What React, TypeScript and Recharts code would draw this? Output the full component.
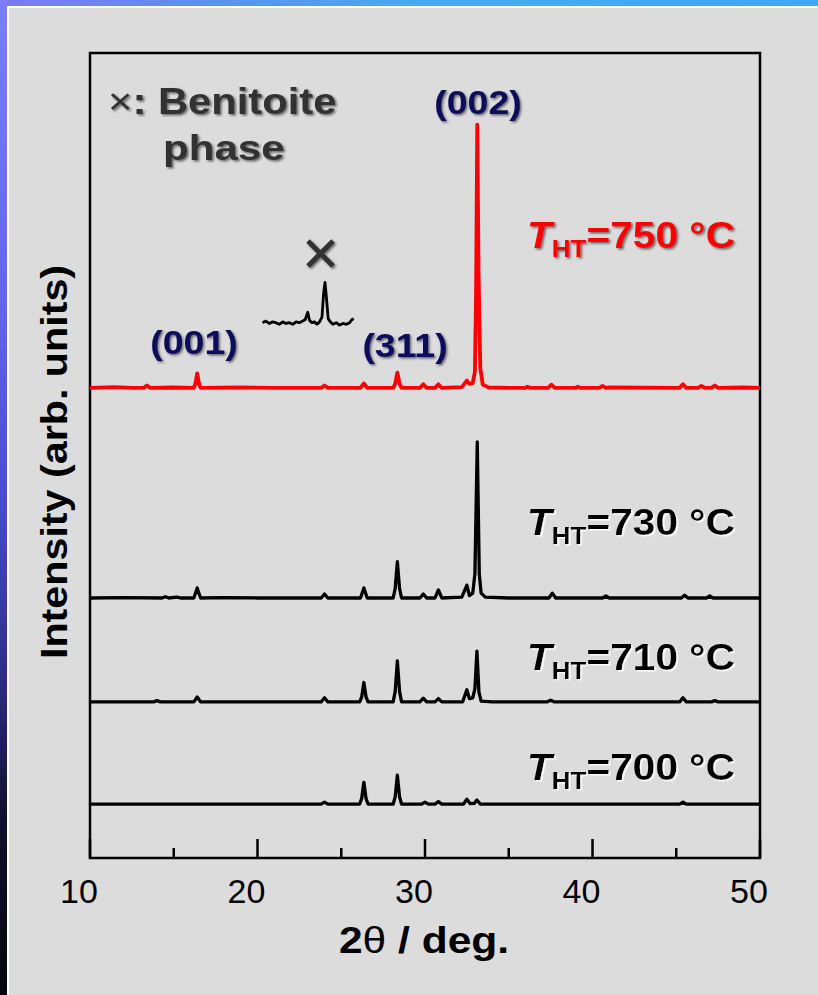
import { LineChart, Line, XAxis, YAxis, ReferenceArea } from "recharts";

const FONT = '"Liberation Sans", Arial, sans-serif';

const xTicks = [10, 15, 20, 25, 30, 35, 40, 45, 50];

// [2theta, intensity above the trace baseline]
const xrd750: [number, number][] = [
  [10, 0], [11.5, 0.1], [12.5, 0], [13.2, 0], [13.4, 0.3], [13.6, 0], [15, 0.05],
  [16.2, 0], [16.3, 0.6], [16.4, 1.8], [16.5, 0.6], [16.6, 0], [19, 0.05], [21, 0],
  [23.8, 0], [24, 0.3], [24.2, 0], [25.5, 0], [26.15, 0], [26.35, 0.55], [26.55, 0],
  [28.1, 0], [28.22, 0.5], [28.35, 1.9], [28.48, 0.5], [28.6, 0], [29.7, 0], [29.9, 0.45],
  [30.1, 0], [30.6, 0], [30.8, 0.45], [31, 0], [32.2, 0.1], [32.5, 0.9], [32.65, 0.5],
  [32.85, 0.6], [32.98, 2], [33.05, 12], [33.12, 32.7], [33.2, 14], [33.3, 2.5],
  [33.45, 0.4], [33.8, 0.05], [35, 0], [36, 0], [36.1, 0.15], [36.3, 0], [37.35, 0],
  [37.55, 0.4], [37.75, 0], [39, 0], [39.1, 0.15], [39.3, 0], [40.4, 0], [40.6, 0.25],
  [40.8, 0], [41, 0.05], [45.2, 0], [45.4, 0.45], [45.6, 0], [46.3, 0], [46.5, 0.25],
  [46.7, 0], [47.1, 0], [47.3, 0.3], [47.5, 0], [49, 0.05], [50, 0],
];

const xrd730: [number, number][] = [
  [10, 0], [12, 0.05], [14.3, 0], [14.5, 0.15], [14.7, 0], [15.2, 0.1], [15.4, 0],
  [16.2, 0], [16.4, 1.25], [16.6, 0], [18, 0.05], [20, 0], [23.8, 0], [24, 0.5],
  [24.2, 0], [26.15, 0], [26.35, 1.25], [26.55, 0], [28.1, 0], [28.22, 1.2],
  [28.35, 4.5], [28.48, 1.2], [28.6, 0], [29.7, 0], [29.9, 0.5], [30.1, 0], [30.6, 0],
  [30.8, 1], [31, 0], [32.2, 0.1], [32.5, 1.6], [32.65, 0.3], [32.85, 0.6], [32.98, 3],
  [33.12, 19.4], [33.24, 3], [33.35, 0.6], [33.6, 0.1], [35, 0], [37.4, 0], [37.6, 0.6],
  [37.8, 0], [40.6, 0], [40.8, 0.25], [41, 0], [45.3, 0], [45.5, 0.35], [45.7, 0],
  [46.8, 0], [47, 0.25], [47.2, 0], [50, 0],
];

const xrd710: [number, number][] = [
  [10, 0], [13.8, 0], [14, 0.15], [14.2, 0], [16.2, 0], [16.4, 0.6], [16.6, 0],
  [23.8, 0], [24, 0.5], [24.2, 0], [26.1, 0], [26.22, 0.6], [26.35, 2.4], [26.48, 0.6],
  [26.6, 0], [28.1, 0], [28.22, 1.3], [28.35, 5.1], [28.48, 1.3], [28.6, 0], [29.7, 0],
  [29.9, 0.45], [30.1, 0], [30.6, 0], [30.8, 0.4], [31, 0], [32.25, 0], [32.5, 1.5],
  [32.65, 0.4], [32.85, 0.5], [32.98, 1.6], [33.1, 6.3], [33.22, 1.2], [33.35, 0.1],
  [34, 0], [37.3, 0], [37.5, 0.2], [37.7, 0], [45.2, 0], [45.4, 0.5], [45.6, 0],
  [47.1, 0], [47.3, 0.15], [47.5, 0], [50, 0],
];

const xrd700: [number, number][] = [
  [10, 0], [23.8, 0], [24, 0.25], [24.2, 0], [26.1, 0], [26.22, 0.7], [26.35, 2.7],
  [26.48, 0.7], [26.6, 0], [28.1, 0], [28.22, 0.9], [28.35, 3.6], [28.48, 0.9],
  [28.6, 0], [29.8, 0], [30, 0.25], [30.2, 0], [30.6, 0], [30.8, 0.3], [31, 0],
  [32.3, 0], [32.5, 0.6], [32.7, 0.05], [32.95, 0.1], [33.1, 0.5], [33.3, 0],
  [45.2, 0], [45.4, 0.25], [45.6, 0], [50, 0],
];

// magnified benitoite window shown above the 750 °C pattern
const benitoiteInset: [number, number][] = [
  [20.3, 0], [20.5, 0.2], [20.7, -0.1], [20.9, 0.1], [21.1, 0], [21.3, -0.2],
  [21.5, 0.1], [21.7, -0.1], [21.9, 0], [22.1, -0.2], [22.3, 0.1], [22.5, 0],
  [22.7, 0.2], [22.85, 0.4], [23, 1.3], [23.1, 0.3], [23.25, 0], [23.4, 0.1],
  [23.55, -0.2], [23.7, 0.1], [23.85, 0.7], [23.95, 3.7], [24.03, 5], [24.12, 3],
  [24.22, 0.5], [24.35, 0.1], [24.5, -0.2], [24.7, 0], [24.9, -0.3], [25.1, -0.1],
  [25.3, -0.2], [25.5, 0], [25.65, 0.4], [25.75, 0.5],
];

// vertical stacking offsets: 750, 730, 710, 700 °C, inset
const offsets = [58.4, 32.3, 19.4, 6.7, 66.5];

const series = [
  { name: "750", pts: xrd750, off: offsets[0], color: "#ff0000", width: 3.8 },
  { name: "730", pts: xrd730, off: offsets[1], color: "#000000", width: 3.3 },
  { name: "710", pts: xrd710, off: offsets[2], color: "#000000", width: 3.3 },
  { name: "700", pts: xrd700, off: offsets[3], color: "#000000", width: 3.3 },
  { name: "inset", pts: benitoiteInset, off: offsets[4], color: "#000000", width: 2.8 },
];

function BottomTick({ x, y, payload }: any) {
  const major = payload.value % 10 === 0;
  return (
    <g>
      <line x1={x} x2={x} y1={y} y2={y - (major ? 19 : 10)} stroke="#000" strokeWidth={2.5} />
      {major && (
        <text x={x - 11} y={y + 45} textAnchor="middle" fontSize={34} fontFamily={FONT} fill="#000">
          {payload.value}
        </text>
      )}
    </g>
  );
}

function TopTick({ x, y, payload }: any) {
  const major = payload.value % 10 === 0;
  return <line x1={x} x2={x} y1={y} y2={y + (major ? 19 : 10)} stroke="#000" strokeWidth={2.5} />;
}

function TempLabel({ y, t, color, shadow }: any) {
  return (
    <text transform={`translate(735,${y}) scale(1.13,1)`} textAnchor="end" fontSize={36}
      fontWeight="bold" fontFamily={FONT} fill={color} filter={shadow}>
      <tspan fontStyle="italic">T</tspan>
      <tspan fontSize={23} dy={9}>HT</tspan>
      <tspan dy={-9}>={t} °C</tspan>
    </text>
  );
}

export default function App() {
  return (
    <div style={{ position: "absolute", left: 0, top: 0, width: 818, height: 995, overflow: "hidden" }}>
      <div style={{ position: "absolute", left: 0, top: 0, width: 818, height: 6,
        background: "linear-gradient(90deg, #7c78f2 0%, #5f8ff0 25%, #45aaf5 50%, #3ca8f8 100%)" }} />
      <div style={{ position: "absolute", left: 0, top: 0, width: 7, height: 995,
        background: "linear-gradient(180deg, #7d7cff 0%, #6464f5 30%, #4a4ad8 50%, #2c2c8c 68%, #10102e 82%, #06060f 100%)" }} />
      <div style={{ position: "absolute", left: 7, top: 6, right: 0, bottom: 0, background: "#dcdcdc",
        borderLeft: "2px solid #fff", borderTop: "2px solid #fff" }} />

      <div style={{ position: "absolute", left: 0, top: 0 }}>
        <LineChart width={818} height={995} margin={{ top: 53, right: 58, bottom: 97, left: 90 }}>
          <XAxis type="number" dataKey="x" domain={[10, 50]} ticks={xTicks} interval={0}
            allowDataOverflow axisLine={false} tickLine={false} tickSize={0} tickMargin={0}
            height={40} tick={<BottomTick />} />
          <XAxis xAxisId="top" orientation="top" type="number" dataKey="x" domain={[10, 50]}
            ticks={xTicks} interval={0} allowDataOverflow axisLine={false} tickLine={false}
            tickSize={0} tickMargin={0} height={0} tick={<TopTick />} />
          <YAxis hide type="number" domain={[0, 100]} allowDataOverflow />
          <ReferenceArea x1={10} x2={50} y1={0} y2={100} fill="none" stroke="#000"
            strokeWidth={2.5} fillOpacity={0} />
          {series.map((s) => (
            <Line key={s.name} data={s.pts.map(([x, v]) => ({ x, y: v + s.off }))}
              dataKey="y" type="linear" dot={false} activeDot={false} stroke={s.color}
              strokeWidth={s.width} strokeLinejoin="round" isAnimationActive={false} />
          ))}
        </LineChart>
      </div>

      <svg width={818} height={995} style={{ position: "absolute", left: 0, top: 0, pointerEvents: "none" }}>
        <defs>
          <filter id="dark" x="-10%" y="-20%" width="130%" height="150%">
            <feDropShadow dx="1.5" dy="1.5" stdDeviation="0.8" floodColor="#000" floodOpacity="0.55" />
          </filter>
          <filter id="light" x="-10%" y="-20%" width="130%" height="150%">
            <feDropShadow dx="1.5" dy="1.5" stdDeviation="0.6" floodColor="#fff" floodOpacity="0.9" />
          </filter>
        </defs>

        <text transform="translate(67,462) rotate(-90) scale(1.115,1)" textAnchor="middle" fontSize={37}
          fontWeight="bold" fontFamily={FONT} fill="#000">Intensity (arb. units)</text>
        <text transform="translate(424,953) scale(1.15,1)" textAnchor="middle" fontSize={37}
          fontWeight="bold" fontFamily={FONT} fill="#000">
          2<tspan fontWeight="normal">θ</tspan> / deg.
        </text>

        <text transform="translate(108,114) scale(1.16,1)" fontSize={36} fontWeight="bold"
          fontFamily={FONT} fill="#333" filter="url(#dark)">
          <tspan fontWeight="normal">×</tspan>: Benitoite
        </text>
        <text transform="translate(163,160) scale(1.17,1)" fontSize={36} fontWeight="bold"
          fontFamily={FONT} fill="#333" filter="url(#dark)">
          phase
        </text>

        <g stroke="#333" strokeWidth={5} strokeLinecap="butt" filter="url(#dark)">
          <line x1={308} y1={241} x2={333} y2={266} />
          <line x1={333} y1={241} x2={308} y2={266} />
        </g>

        <g fontSize={34} fontWeight="bold" fontFamily={FONT} fill="#0b0b5c" textAnchor="middle" filter="url(#dark)">
          <text transform="translate(478,114) scale(1.1,1)">(002)</text>
          <text transform="translate(194,354) scale(1.1,1)">(001)</text>
          <text transform="translate(405,357) scale(1.1,1)">(311)</text>
        </g>

        <TempLabel y={248} t="750" color="#ff0000" shadow="url(#dark)" />
        <TempLabel y={535} t="730" color="#000" shadow="url(#light)" />
        <TempLabel y={670} t="710" color="#000" shadow="url(#light)" />
        <TempLabel y={780} t="700" color="#000" shadow="url(#light)" />
      </svg>
    </div>
  );
}
